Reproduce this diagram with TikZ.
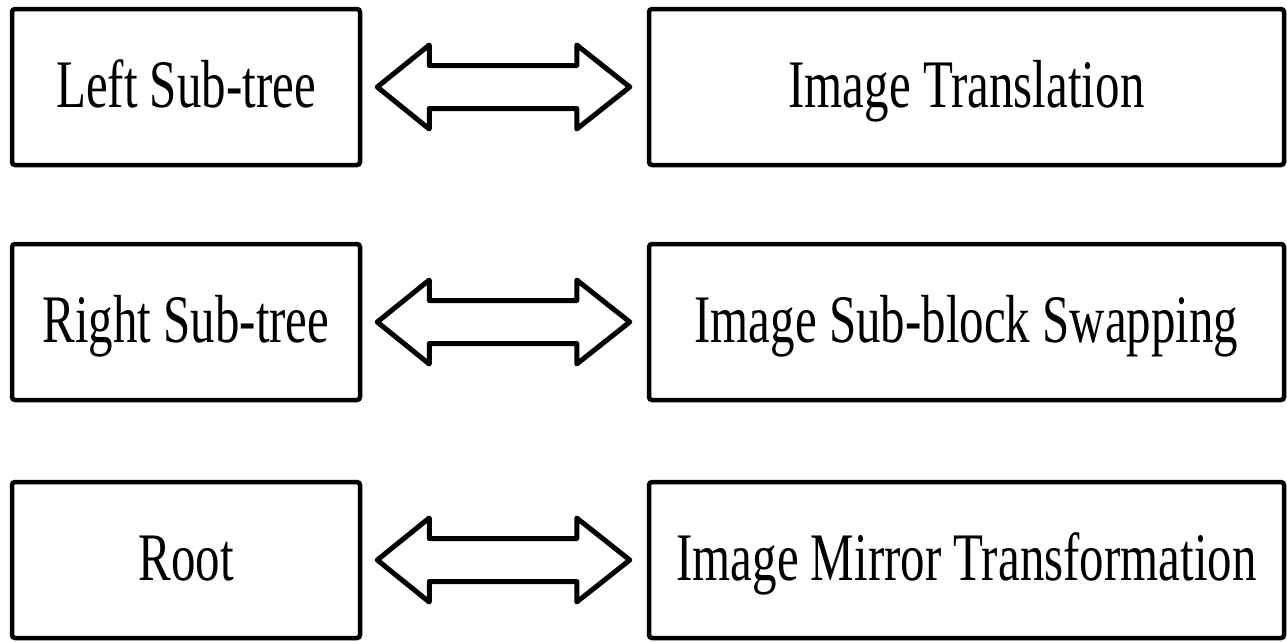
\documentclass[tikz,border=0pt]{standalone}
\usepackage{fontspec}
\setmainfont{Liberation Serif}[FakeStretch=0.72]
\usetikzlibrary{calc}

\tikzset{
  box/.style={draw=black, line width=4.5pt, rounded corners=3pt, fill=white,
    inner sep=0pt, minimum height=156pt, text height=42pt, text depth=2pt,
    font=\fontsize{68}{80}\selectfont},
  leftbox/.style={box, minimum width=348pt},
  rightbox/.style={box, minimum width=635pt},
  arrowline/.style={draw=black, line width=5pt, line join=round, fill=white}
}

% hollow two-headed arrow between the facing sides of two boxes
\newcommand\twoway[2]{%
  \path[arrowline] let \p1=(#1.east), \p2=(#2.west) in
    (\x1+15pt,\y1) -- (\x1+67pt,\y1+42pt) -- (\x1+67pt,\y1+21.5pt)
    -- (\x2-70pt,\y1+21.5pt) -- (\x2-70pt,\y1+42pt) -- (\x2-17pt,\y1)
    -- (\x2-70pt,\y1-42pt) -- (\x2-70pt,\y1-21.5pt)
    -- (\x1+67pt,\y1-21.5pt) -- (\x1+67pt,\y1-42pt) -- cycle;}

\begin{document}
\begin{tikzpicture}[x=1pt,y=-1pt]
  \useasboundingbox (0,0) rectangle (1287,641);

  \node[leftbox]  (lst) at (186,87)    {Left Sub-tree};
  \node[rightbox] (trn) at (966.5,87)  {Image Translation};

  \node[leftbox]  (rst) at (186,322)   {Right Sub-tree};
  \node[rightbox] (swp) at (966.5,322) {Image Sub-block Swapping};

  \node[leftbox]  (root) at (186,560)  {Root};
  \node[rightbox] (mir) at (966.5,560) {Image Mirror Transformation};

  \twoway{lst}{trn}
  \twoway{rst}{swp}
  \twoway{root}{mir}
\end{tikzpicture}
\end{document}
